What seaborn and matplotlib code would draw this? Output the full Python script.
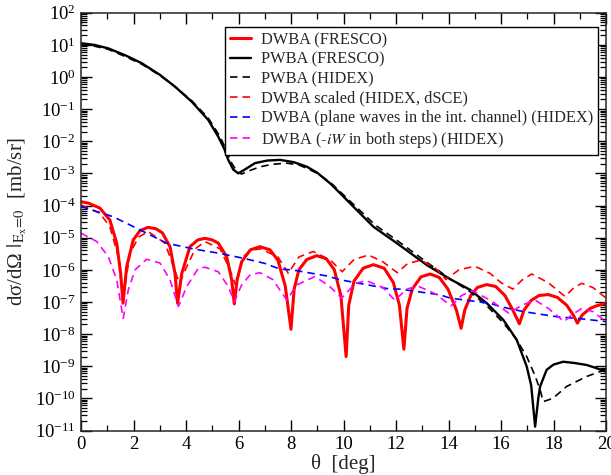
import numpy as np
import pandas as pd
import matplotlib
matplotlib.use("Agg")
import matplotlib.pyplot as plt
import seaborn as sns
from matplotlib.ticker import MultipleLocator, LogLocator, NullFormatter

# Angular distributions, theta in degrees, cross sections stored as log10(mb/sr)
theta_dwba_fresco = [0.0, 0.3, 0.72, 1.10, 1.36, 1.51, 1.60, 1.74, 1.99, 2.25, 2.55, 2.85, 3.10, 3.39, 3.58, 3.68,
                     3.84, 4.15, 4.45, 4.72, 5.00, 5.23, 5.55, 5.74, 5.84,
                     5.95, 6.12, 6.45, 6.82, 7.20, 7.50, 7.78, 8.00,
                     8.12, 8.30, 8.60, 8.98, 9.35, 9.65, 9.90, 10.10,
                     10.20, 10.40, 10.75, 11.14, 11.55, 11.90, 12.13, 12.30,
                     12.42, 12.62, 12.95, 13.30, 13.65, 13.98, 14.30, 14.48,
                     14.62, 14.85, 15.10, 15.45, 15.80, 16.15, 16.45, 16.70,
                     16.88, 17.15, 17.45, 17.80, 18.15, 18.50, 18.75, 18.91,
                     19.10, 19.40, 19.64, 20.00]
log_dwba_fresco = [-3.88, -3.93, -4.08, -4.45, -5.17, -6.11, -7.04, -5.90, -5.07, -4.78, -4.68, -4.72, -4.85, -5.28, -6.11, -7.04,
                   -6.11, -5.28, -5.07, -5.02, -5.07, -5.17, -5.59, -6.31, -7.06,
                   -6.30, -5.75, -5.38, -5.28, -5.38, -5.70, -6.50, -7.85,
                   -6.60, -6.00, -5.68, -5.56, -5.66, -6.00, -6.80, -8.70,
                   -7.10, -6.35, -5.95, -5.84, -5.95, -6.40, -7.10, -8.47,
                   -7.20, -6.60, -6.22, -6.13, -6.24, -6.60, -7.25, -7.82,
                   -7.25, -6.80, -6.55, -6.46, -6.52, -6.80, -7.25, -7.68,
                   -7.25, -6.95, -6.80, -6.77, -6.86, -7.10, -7.40, -7.66,
                   -7.40, -7.20, -7.12, -7.04]

theta_pwba_fresco = [0.0, 0.5, 1.04, 1.7, 2.31, 3.0, 3.58, 4.22, 4.85, 5.23, 5.45, 5.61, 5.80, 5.99, 6.20, 6.63,
                     7.10, 7.58, 8.10, 8.60, 9.00, 9.49, 9.90, 10.37, 11.14, 12.03, 13.17, 14.06, 14.82, 15.46,
                     16.09, 16.60, 16.98, 17.15, 17.30, 17.42, 17.49, 17.74, 18.00, 18.37, 18.80, 19.26, 19.60, 20.00]
log_pwba_fresco = [1.05, 1.00, 0.89, 0.67, 0.43, 0.07, -0.30, -0.77, -1.34, -1.86, -2.22, -2.58, -2.88, -3.00, -2.90, -2.68,
                   -2.60, -2.58, -2.65, -2.79, -2.98, -3.31, -3.64, -4.03, -4.66, -5.17, -5.85, -6.29, -6.62, -7.04,
                   -7.56, -8.18, -9.01, -9.60, -10.88, -10.00, -9.63, -9.11, -8.95, -8.86, -8.90, -8.96, -9.05, -9.17]

theta_pwba_hidex = [0.0, 0.5, 1.04, 1.7, 2.31, 3.0, 3.58, 4.22, 4.85, 5.30, 5.55, 5.74, 5.95, 6.12, 6.40, 6.80,
                    7.26, 7.84, 8.30, 8.60, 9.00, 9.50, 10.40, 11.20, 12.10, 13.20, 14.06, 14.82, 15.46, 16.10,
                    16.60, 16.98, 17.30, 17.49, 17.61, 17.80, 17.99, 18.50, 19.26, 20.00]
log_pwba_hidex = [1.00, 0.96, 0.86, 0.63, 0.40, 0.05, -0.30, -0.74, -1.28, -1.86, -2.30, -2.68, -2.95, -3.02, -2.92, -2.80,
                  -2.72, -2.68, -2.74, -2.84, -3.00, -3.28, -3.98, -4.60, -5.12, -5.78, -6.28, -6.68, -7.12, -7.66,
                  -8.18, -8.70, -9.30, -9.74, -10.10, -10.05, -9.99, -9.63, -9.32, -9.10]

theta_dwba_scaled = [0.0, 0.72, 1.10, 1.42, 1.60, 1.87, 2.20, 2.56, 3.20, 3.52, 3.75, 4.03, 4.35, 4.72, 5.30, 5.65,
                     5.90, 6.18, 6.50, 6.85, 7.50, 7.90, 8.30, 8.85, 9.50, 9.95, 10.40, 10.95, 11.50, 12.05,
                     12.45, 12.95, 13.50, 13.90, 14.40, 15.00, 15.58, 16.00, 16.45, 16.80, 17.17, 17.80, 18.44,
                     18.75, 19.07, 19.50, 20.00]
log_dwba_scaled = [-3.98, -4.24, -4.66, -5.59, -6.90, -5.48, -4.98, -4.81, -5.17, -5.90, -6.42, -5.90, -5.35, -5.12, -5.35, -5.95,
                   -6.50, -5.59, -5.38, -5.35, -5.60, -6.11, -5.60, -5.43, -5.70, -6.06, -5.68, -5.54, -5.75, -6.09,
                   -5.80, -5.70, -5.95, -6.30, -6.00, -5.89, -6.11, -6.40, -6.60, -6.32, -6.13, -6.40, -6.83,
                   -6.58, -6.42, -6.55, -6.88]

theta_dwba_pw = [0.0, 1.23, 2.50, 3.26, 4.34, 5.23, 6.18, 7.00, 7.58, 8.03, 9.36, 9.87, 10.80, 11.77, 12.15, 13.00,
                 13.68, 14.06, 15.00, 15.58, 16.00, 16.85, 18.12, 19.00, 20.00]
log_dwba_pw = [-4.03, -4.35, -4.86, -5.17, -5.36, -5.48, -5.64, -5.80, -5.98, -6.00, -6.19, -6.31, -6.45, -6.60, -6.60, -6.70,
               -6.78, -6.88, -6.98, -7.04, -7.15, -7.30, -7.46, -7.52, -7.61]

theta_dwba_iw = [0.0, 0.60, 1.04, 1.36, 1.51, 1.61, 1.80, 2.06, 2.50, 3.01, 3.39, 3.71, 4.03, 4.47, 4.72, 5.23,
                 5.61, 5.84, 6.12, 6.45, 6.82, 7.30, 7.84, 8.22, 8.91, 9.45, 9.93, 10.45, 10.88, 11.50,
                 11.96, 12.40, 12.85, 13.50, 14.10, 14.50, 14.90, 15.60, 16.30, 16.80, 17.30, 17.80, 18.40,
                 18.70, 19.10, 19.50, 20.00]
log_dwba_iw = [-4.86, -5.12, -5.59, -6.31, -7.04, -7.51, -6.63, -6.00, -5.67, -5.79, -6.31, -7.14, -6.52, -5.95, -5.92, -6.06,
               -6.52, -6.99, -6.47, -6.15, -6.09, -6.30, -6.94, -6.47, -6.21, -6.50, -6.88, -6.42, -6.34, -6.55,
               -6.95, -6.60, -6.51, -6.75, -7.12, -6.80, -6.65, -6.95, -7.35, -7.10, -6.94, -7.20, -7.61,
               -7.40, -7.19, -7.30, -7.61]

series_labels = [
    "DWBA (FRESCO)",
    "PWBA (FRESCO)",
    "PWBA (HIDEX)",
    "DWBA scaled (HIDEX, dSCE)",
    "DWBA (plane waves in the int. channel) (HIDEX)",
    "DWBA (-$iW$ in both steps) (HIDEX)",
]

sns.set_theme(style="ticks")
plt.rcParams["font.family"] = ["Liberation Serif", "DejaVu Serif"]
plt.rcParams["mathtext.fontset"] = "stix"
plt.rcParams["axes.linewidth"] = 1.1

fig = plt.figure(figsize=(6.11, 4.75), dpi=100)
ax = fig.add_axes([81 / 611, 1 - 430.5 / 475, (606 - 81) / 611, (430.5 - 12.7) / 475])

dash = (0, (4.5, 3.0))
curves = [
    (theta_dwba_fresco, log_dwba_fresco, "#ff0000", 2.2, "-"),
    (theta_pwba_fresco, log_pwba_fresco, "#000000", 1.7, "-"),
    (theta_pwba_hidex, log_pwba_hidex, "#000000", 1.2, dash),
    (theta_dwba_scaled, log_dwba_scaled, "#ff0000", 1.2, dash),
    (theta_dwba_pw, log_dwba_pw, "#0000ff", 1.2, dash),
    (theta_dwba_iw, log_dwba_iw, "#ff00ff", 1.2, dash),
]

for (xs, logs, color, lw, ls), label in zip(curves, series_labels):
    df = pd.DataFrame({"theta": xs, "xs": np.power(10.0, logs)})
    sns.lineplot(data=df, x="theta", y="xs", ax=ax, color=color, linewidth=lw,
                 linestyle=ls, label=label, estimator=None, sort=False)

ax.set_yscale("log")
ax.set_xlim(0, 20)
ax.set_ylim(1e-11, 1e2)

ax.xaxis.set_major_locator(MultipleLocator(2))
ax.xaxis.set_minor_locator(MultipleLocator(1))
ax.yaxis.set_major_locator(LogLocator(base=10, numticks=30))
ax.yaxis.set_minor_locator(LogLocator(base=10, subs=np.arange(2, 10), numticks=300))
ax.yaxis.set_minor_formatter(NullFormatter())

ax.tick_params(which="both", direction="in", top=True, right=True, colors="black", labelsize=13.5)
ax.tick_params(which="major", length=8, width=1.0, pad=4)
ax.tick_params(which="minor", length=4.5, width=0.9)

ax.set_xlabel("θ  [deg]", fontsize=15, labelpad=1)
ax.set_ylabel("dσ/dΩ $|_{\\mathrm{E_x\\!=\\!0}}$  [mb/sr]", fontsize=15, labelpad=4)

leg = ax.legend(loc="upper left", bbox_to_anchor=(225 / 611, 1 - 27 / 475), bbox_transform=fig.transFigure,
                fontsize=11.8, frameon=True, fancybox=False, framealpha=1, edgecolor="black",
                borderpad=0.3, labelspacing=0.22, handlelength=1.3, handletextpad=0.6, borderaxespad=0)
leg.get_frame().set_linewidth(1.0)

fig.savefig("out.png", dpi=100)
